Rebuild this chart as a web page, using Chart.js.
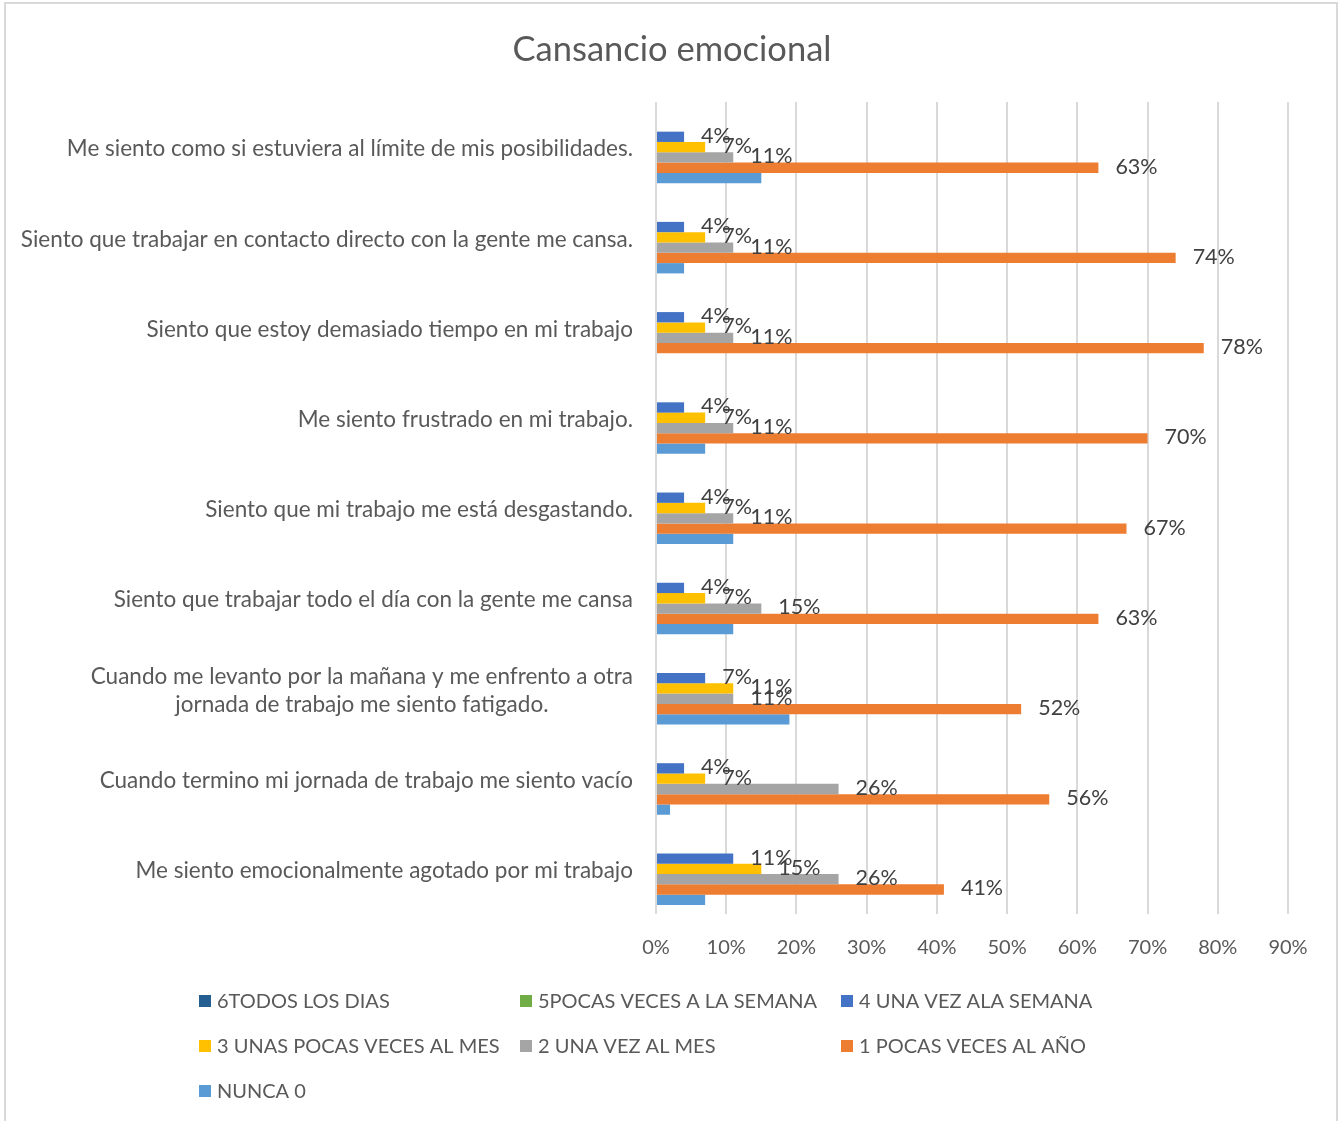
<!DOCTYPE html>
<html lang="es">

<head>
  <meta charset="UTF-8">
  <title>Cansancio emocional</title>
  <script src="https://cdn.jsdelivr.net/npm/chart.js"></script>
  <style>
    html, body { margin: 0; padding: 0; background: #fff; }
    .chart-wrapper { position: relative; width: 1344px; height: 1121px; }
  </style>
</head>

<body>
  <div class="chart-wrapper"><canvas id="cansancioChart"></canvas></div>

  <script>
    const titulo = 'Cansancio emocional';

    // Preguntas (de arriba hacia abajo)
    const preguntas = [
      'Me siento como si estuviera al límite de mis posibilidades.',
      'Siento que trabajar en contacto directo con la gente me cansa.',
      'Siento que estoy demasiado tiempo en mi trabajo',
      'Me siento frustrado en mi trabajo.',
      'Siento que mi trabajo me está desgastando.',
      'Siento que trabajar todo el día con la gente me cansa',
      ['Cuando me levanto por la mañana y me enfrento a otra', 'jornada de trabajo me siento fatigado.'],
      'Cuando termino mi jornada de trabajo me siento vacío',
      'Me siento emocionalmente agotado por mi trabajo'
    ];

    // Porcentaje de respuestas por frecuencia
    const todosLosDias = [0, 0, 0, 0, 0, 0, 0, 0, 0];
    const pocasVecesSemana = [0, 0, 0, 0, 0, 0, 0, 0, 0];
    const unaVezSemana = [4, 4, 4, 4, 4, 4, 7, 4, 11];
    const pocasVecesMes = [7, 7, 7, 7, 7, 7, 11, 7, 15];
    const unaVezMes = [11, 11, 11, 11, 11, 15, 11, 26, 26];
    const pocasVecesAno = [63, 74, 78, 70, 67, 63, 52, 56, 41];
    const nunca = [15, 4, 0, 7, 11, 11, 19, 2, 7];

    const ticksX = [0, 10, 20, 30, 40, 50, 60, 70, 80, 90];

    const FUENTE = 'Lato, Calibri, "Open Sans", sans-serif';

    // Etiquetas de valor al final de las barras
    const etiquetasPlugin = {
      id: 'etiquetas',
      afterDatasetsDraw(chart) {
        const ctx = chart.ctx;
        ctx.save();
        ctx.font = `21.5px ${FUENTE}`;
        ctx.fillStyle = '#404040';
        ctx.textAlign = 'left';
        ctx.textBaseline = 'middle';
        chart.data.datasets.forEach((ds, i) => {
          if (!ds.mostrarValor) return;
          chart.getDatasetMeta(i).data.forEach((bar, j) => {
            const v = ds.data[j];
            if (!v) return;
            ctx.fillText(v + '%', bar.x + 17, bar.y - 1);
          });
        });
        ctx.restore();
      }
    };

    // Preguntas del eje vertical: bloque alineado a la derecha, líneas centradas entre sí
    const preguntasPlugin = {
      id: 'preguntas',
      afterDraw(chart) {
        const ctx = chart.ctx;
        const escala = chart.scales.y;
        const derecha = chart.chartArea.left - 23;
        const alto = 28;
        ctx.save();
        ctx.font = `22.5px ${FUENTE}`;
        ctx.fillStyle = '#595959';
        ctx.textAlign = 'center';
        ctx.textBaseline = 'middle';
        chart.data.labels.forEach((etq, i) => {
          const lineas = Array.isArray(etq) ? etq : [etq];
          const ancho = Math.max(...lineas.map(l => ctx.measureText(l).width));
          const cx = derecha - ancho / 2;
          const y0 = escala.getPixelForTick(i) + 2 - (lineas.length - 1) * alto / 2;
          lineas.forEach((l, k) => ctx.fillText(l, cx, y0 + k * alto));
        });
        ctx.restore();
      }
    };

    // Título, leyenda en tres columnas y marco del gráfico
    const leyendaPlugin = {
      id: 'leyenda',
      afterDraw(chart) {
        const ctx = chart.ctx;
        ctx.save();
        ctx.strokeStyle = '#d9d9d9';
        ctx.lineWidth = 2;
        ctx.strokeRect(5, 3, 1332, 1140);

        ctx.fillStyle = '#595959';
        ctx.font = `34.5px ${FUENTE}`;
        ctx.textAlign = 'center';
        ctx.textBaseline = 'middle';
        ctx.fillText(titulo, chart.width / 2, 50);

        ctx.font = `20px ${FUENTE}`;
        ctx.textAlign = 'left';
        chart.data.datasets.forEach((ds, i) => {
          const x = 199 + (i % 3) * 321;
          const y = 1002 + Math.floor(i / 3) * 45;
          ctx.fillStyle = ds.backgroundColor;
          ctx.fillRect(x, y - 7, 12, 12);
          ctx.fillStyle = '#595959';
          ctx.fillText(ds.label, x + 18, y);
        });
        ctx.restore();
      }
    };

    new Chart(document.getElementById('cansancioChart'), {
      type: 'bar',
      data: {
        labels: preguntas,
        datasets: [
          { label: '6TODOS LOS DIAS', data: todosLosDias, backgroundColor: '#255E91' },
          { label: '5POCAS VECES A LA SEMANA', data: pocasVecesSemana, backgroundColor: '#70AD47' },
          { label: '4 UNA VEZ ALA SEMANA', data: unaVezSemana, backgroundColor: '#4472C4', mostrarValor: true },
          { label: '3 UNAS POCAS VECES AL MES', data: pocasVecesMes, backgroundColor: '#FFC000', mostrarValor: true },
          { label: '2 UNA VEZ AL MES', data: unaVezMes, backgroundColor: '#A5A5A5', mostrarValor: true },
          { label: '1 POCAS VECES AL AÑO', data: pocasVecesAno, backgroundColor: '#ED7D31', mostrarValor: true },
          { label: 'NUNCA 0', data: nunca, backgroundColor: '#5B9BD5' }
        ]
      },
      options: {
        indexAxis: 'y',
        responsive: true,
        maintainAspectRatio: false,
        animation: false,
        categoryPercentage: 0.8,
        barPercentage: 1.0,
        layout: { padding: { left: 0, right: 56, top: 102, bottom: 0 } },
        plugins: {
          legend: { display: false },
          tooltip: { enabled: false },
          title: { display: false }
        },
        scales: {
          x: {
            min: 0,
            max: 90,
            afterBuildTicks: (scale) => { scale.ticks = ticksX.map(v => ({ value: v })); },
            afterFit: (scale) => { scale.height = 207; },
            grid: { color: '#d9d9d9', lineWidth: 2, drawTicks: false },
            border: { display: false },
            ticks: {
              padding: 22,
              color: '#595959',
              font: { family: FUENTE, size: 20 },
              callback: (v) => v + '%'
            }
          },
          y: {
            afterFit: (scale) => { scale.width = 656; },
            grid: { display: false, drawTicks: false },
            border: { display: false },
            ticks: { display: false }
          }
        }
      },
      plugins: [etiquetasPlugin, preguntasPlugin, leyendaPlugin]
    });
  </script>
</body>

</html>
